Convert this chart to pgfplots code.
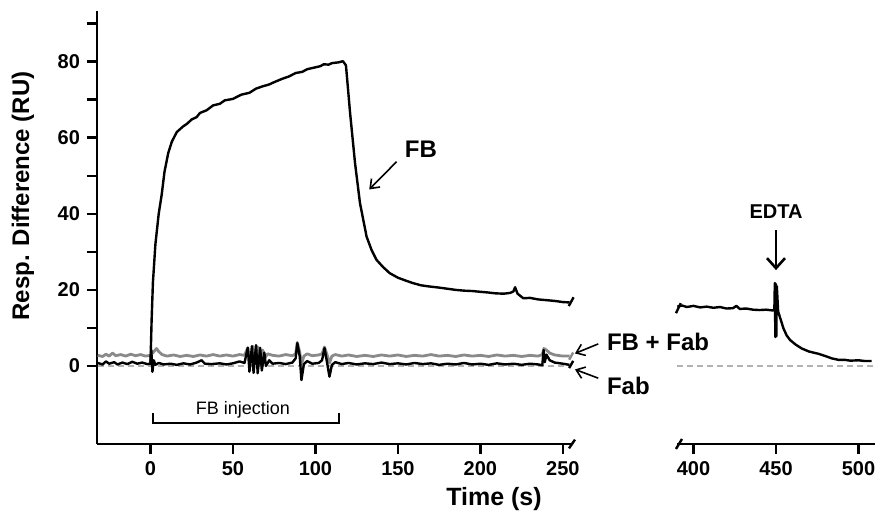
\documentclass[border=0pt]{standalone}
\usepackage{fontspec}
\setmainfont{Liberation Sans}
\usepackage{pgfplots}
\pgfplotsset{compat=1.18}
\usetikzlibrary{arrows.meta}
\definecolor{fbfab}{HTML}{8A8A8A}

\pgfplotsset{
  sprstyle/.style={
    scale only axis, clip=false,
    height=216.5pt, ymin=-20.5, ymax=93.3,
    axis x line*=bottom,
    axis line style={line width=1.3pt, black},
    tick style={line width=1.2pt, black},
    tick align=outside,
    major tick length=5pt, minor tick length=5pt,
    /pgf/number format/assume math mode=true,
    ticklabel style={font=\bfseries\fontsize{10}{11}\selectfont},
    every axis plot/.append style={no marks, line join=round},
  },
}
\tikzset{brk/.style={line width=1.2pt, black}}

\begin{document}
\begin{tikzpicture}
\path[use as bounding box] (0,0) rectangle (442.5pt,256.5pt);

% left panel
\begin{axis}[sprstyle,
  at={(48.5pt,34.5pt)}, anchor=south west,
  width=237.5pt, xmin=-32.4, xmax=255.5,
  axis y line*=left,
  xtick={0,50,...,250},
  ytick={0,20,...,80}, minor ytick={10,30,...,90},
]
\addplot[gray!60, densely dashed, line width=0.6pt] coordinates {(-32,0) (254,0)};

% FB + Fab
\addplot[fbfab, line width=1.4pt] coordinates {
(-32,2.8) (-29,2.5) (-27,3.1) (-25,2.6) (-23,3.4) (-21,2.7) (-18,3.0) (-15,2.6)
(-12,3.1) (-9,2.7) (-6,3.0) (-3,2.6) (0,2.8) (1.5,3.5) (3.7,4.6) (5,3.8) (7,3.0)
(10,2.6) (14,2.9) (18,2.5) (22,2.8) (26,2.5) (30,2.9) (34,2.6) (38,3.0) (42,2.6)
(46,2.9) (50,2.6) (54,3.0) (57,2.8) (59,4.8) (60.5,1.2) (62,5.2) (63.5,1.0)
(65,5.0) (66.5,1.5) (68,4.2) (69.5,2.2) (71,3.2) (74,2.8) (78,2.6) (82,3.0)
(86,2.7) (88,3.2) (89,6.2) (90.5,3.6) (91.5,0.5) (93,2.6) (95,3.2) (98,2.7)
(102,2.9) (104,3.2) (105.5,5.0) (107,3.0) (108.5,0.8) (110,2.6) (112,3.0)
(116,2.6) (120,2.9) (125,2.5) (130,2.8) (135,2.5) (140,2.9) (145,2.6) (150,2.9)
(155,2.5) (160,2.8) (165,2.6) (170,3.0) (175,2.6) (180,2.8) (185,2.5) (190,2.9)
(195,2.6) (200,2.8) (205,2.5) (210,2.9) (215,2.6) (220,2.8) (225,2.5) (230,2.8)
(235,2.6) (237.5,3.0) (238.5,4.6) (240,4.2) (242,3.4) (245,2.9) (250,2.6) (254,2.6)
};

% Fab
\addplot[black, line width=1.2pt] coordinates {
(-32,0.8) (-29,0.4) (-27,1.2) (-25,0.6) (-22,1.0) (-20,0.4) (-17,0.9) (-14,0.5)
(-11,1.1) (-8,0.6) (-5,0.9) (-2,0.5) (0,0.6) (0.5,4.2) (1.2,-1.5) (2,1.5) (3,0.3)
(5,0.8) (8,0.4) (12,0.6) (16,0.3) (20,0.7) (24,0.4) (28,0.9) (31,1.5) (33,0.6)
(37,0.5) (42,0.7) (46,0.4) (50,0.7) (54,1.2) (57,0.8) (59,4.8) (60,-1.5)
(61.5,5.2) (62.5,-1.8) (64,5.5) (65,-1.9) (66.5,4.8) (67.5,-1.2) (69,3.5) (70,0.0)
(72,1.5) (74,0.6) (78,0.8) (82,0.5) (86,0.9) (88,2.0) (89,6.0) (90.5,2.5)
(91.5,-3.7) (93,0.5) (95,1.3) (98,0.6) (102,0.8) (104,1.5) (105.5,4.7) (107,1.0)
(108.5,-2.8) (110,0.3) (112,1.0) (116,0.5) (120,0.8) (125,0.4) (130,0.7) (135,0.5)
(140,0.9) (145,0.5) (150,0.7) (155,0.4) (160,0.8) (165,0.5) (170,0.7) (175,0.3)
(180,0.6) (185,0.4) (190,0.8) (195,0.4) (200,0.6) (205,0.3) (210,0.7) (215,0.4)
(220,0.6) (225,0.3) (230,0.6) (235,0.4) (237.5,0.2) (238.3,4.2) (239,1.0)
(240,3.0) (242,1.5) (245,0.9) (250,0.6) (254,0.3)
};

% FB
\addplot[black, line width=1.2pt] coordinates {
(0,0.5) (0.7,12) (1.5,22) (3,32) (5,40) (6.8,45) (8.5,51) (10.8,56) (13,59)
(16,61.5) (19.9,63) (22,63.6) (25,64.8) (28,65.4) (30,66.5) (34,67.2) (38,68.5)
(42,68.9) (45,69.8) (50,70.2) (55,71.3) (60,71.8) (64,72.9) (68,73.5) (72,74.0)
(75,74.6) (80,75.5) (84,76.1) (88,77.0) (92,77.3) (95,78.0) (100,78.5) (103,78.8)
(105,79.3) (108,79.2) (110,79.6) (114,79.8) (116.7,80.1) (118.5,79) (121,66.5)
(124,53.3) (127,42.8) (131,34) (134,30.5) (137,27.9) (141,26) (145,24.4)
(150,23.2) (155,22.4) (159,21.8) (164,21.2) (169,20.9) (175,20.6) (180,20.3)
(185,20.0) (190,19.8) (195,19.7) (200,19.5) (205,19.3) (209,19.1) (214,19.0)
(218,19.2) (220,19.6) (221,20.7) (222.5,19.0) (226,17.8) (230,17.9) (235,17.5)
(240,17.3) (245,17.1) (250,16.8) (254,16.7)
};

% break marks
\draw[brk] (axis cs:255.5,-20.5) ++(-1.5pt,-2.2pt) -- ++(3pt,4.4pt);
\draw[brk] (axis cs:255,16.9) ++(-1.2pt,-2.2pt) -- ++(2.4pt,4.4pt);
\draw[brk, fbfab] (axis cs:255,2.6) ++(-1pt,-1.8pt) -- ++(2pt,3.6pt);
\draw[brk] (axis cs:255,0.4) ++(-1pt,-1.8pt) -- ++(2pt,3.6pt);

% FB injection bracket
\draw[line width=1.1pt] (axis cs:1.3,-12.4) -- (axis cs:1.3,-14.9)
  -- (axis cs:114.4,-14.9) -- (axis cs:114.4,-12.4);
\node[font=\fontsize{9}{10}\selectfont] at (axis cs:56,-11.6) {FB injection};

% annotations
\node[font=\bfseries\fontsize{12}{14}\selectfont] at (axis cs:163.9,57.0) {FB};
\draw[line width=0.8pt, -{Straight Barb[length=4pt,width=6pt]}]
  (axis cs:149.2,53.7) -- (axis cs:132.6,46.4);
\node[font=\bfseries\fontsize{12}{14}\selectfont, anchor=west, inner sep=0pt]
  at (axis cs:276.5,6.2) {FB + Fab};
\draw[line width=0.8pt, -{Straight Barb[length=4pt,width=6pt]}]
  (axis cs:271.4,5.8) -- (axis cs:257.3,3.3);
\node[font=\bfseries\fontsize{12}{14}\selectfont, anchor=west, inner sep=0pt]
  at (axis cs:276.5,-5.3) {Fab};
\draw[line width=0.8pt, -{Straight Barb[length=4pt,width=6pt]}]
  (axis cs:271.4,-3.2) -- (axis cs:257.3,-0.9);
\end{axis}

% right panel
\begin{axis}[sprstyle,
  at={(338.5pt,34.5pt)}, anchor=south west,
  width=99pt, xmin=390, xmax=510,
  axis y line=none,
  xtick={400,450,500},
]
\addplot[gray!60, densely dashed, line width=0.6pt] coordinates {(390,0) (510,0)};
\addplot[black, line width=1.2pt] coordinates {
(390.2,15.6) (393,15.9) (396,15.5) (400,15.8) (404,15.4) (408,15.6) (412,15.3)
(416,15.5) (420,15.1) (424,15.2) (426,15.8) (428,15.0) (432,15.1) (436,14.8)
(440,14.7) (444,14.8) (448,14.6) (449,14.7) (449.3,21.8) (449.6,7.6) (449.9,21.6)
(450.2,7.8) (450.5,21) (451.3,14.3) (453,12) (454.5,9.9) (456.5,8.0) (458.6,6.8)
(462,5.6) (465.6,4.6) (470,3.8) (475.8,3.2) (480,2.6) (483.8,2.0) (488,1.6)
(491.9,1.6) (495,1.4) (500,1.5) (504,1.3) (508,1.3)
};
\draw[brk] (axis cs:390,-20.5) ++(-0.5pt,-2.5pt) -- ++(3pt,5pt);
\draw[brk] (axis cs:390,15.2) ++(-0.5pt,-2.5pt) -- ++(2.4pt,5pt);

\node[font=\bfseries\fontsize{10}{12}\selectfont] at (axis cs:450,40.7) {EDTA};
\draw[line width=1.3pt, -{Straight Barb[length=5pt,width=9pt]}]
  (axis cs:450,35.8) -- (axis cs:450,25.2);
\end{axis}

\node[rotate=90, font=\bfseries\fontsize{12}{14}\selectfont] at (11.5pt,158.5pt)
  {Resp. Difference (RU)};
\node[font=\bfseries\fontsize{12.5}{14}\selectfont] at (247pt,7pt) {Time (s)};
\end{tikzpicture}
\end{document}
